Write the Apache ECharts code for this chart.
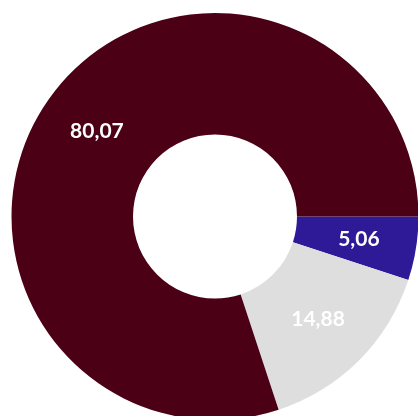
<!DOCTYPE html>
<html>
<head>
<meta charset="utf-8">
<script src="https://cdn.jsdelivr.net/npm/echarts@6/dist/echarts.min.js"></script>
<style>
  html, body { margin: 0; padding: 0; background: #ffffff; }
  #chart { width: 418px; height: 416px; }
</style>
</head>
<body>
<div id="chart"></div>
<script>
// Share of each segment, in percent (drawn clockwise from 3 o'clock)
const categories = ['A', 'B', 'C'];
const values = [5.06, 14.88, 80.07];
const colors = ['#2e1996', '#dedede', '#4b0016'];

const chart = echarts.init(document.getElementById('chart'), null, { renderer: 'canvas' });

chart.setOption({
  backgroundColor: '#ffffff',
  animation: false,
  series: [{
    type: 'pie',
    center: [215, 216.5],
    radius: [82, 203.5],
    startAngle: 0,
    clockwise: true,
    avoidLabelOverlap: false,
    itemStyle: { borderWidth: 0 },
    label: {
      show: true,
      position: 'inside',
      color: '#ffffff',
      fontFamily: 'Lato',
      fontWeight: 'bold',
      fontSize: 21,
      formatter: p => p.value.toFixed(2).replace('.', ',')
    },
    labelLine: { show: false },
    emphasis: { disabled: true },
    data: categories.map((c, i) => ({
      name: c,
      value: values[i],
      itemStyle: { color: colors[i] }
    }))
  }]
});
</script>
</body>
</html>
